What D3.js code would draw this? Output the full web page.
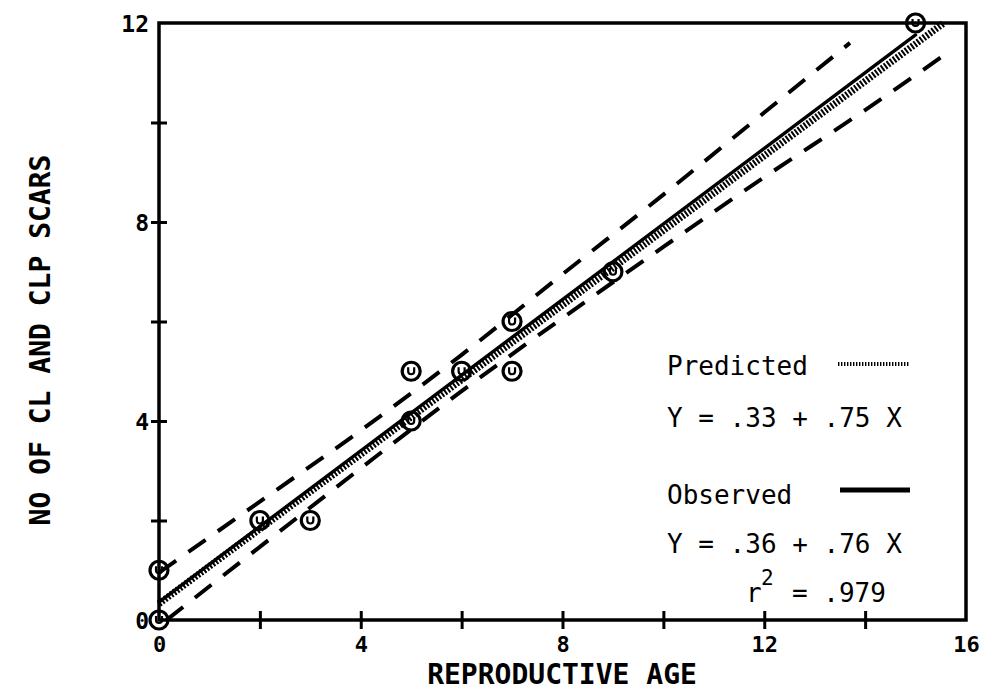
<!DOCTYPE html>
<html>
<head>
<meta charset="utf-8">
<script src="https://cdn.jsdelivr.net/npm/d3@7"></script>
<style>
  html, body { margin: 0; padding: 0; background: #fff; }
  svg { display: block; }
</style>
</head>
<body>
<svg id="chart" width="990" height="692"></svg>
<script>
// Observed animals: reproductive age vs number of CL and CLP scars
const ageValues   = [0, 0, 2, 3, 5, 5, 6, 7, 7, 9, 15];
const scarValues  = [0, 1, 2, 2, 5, 4, 5, 6, 5, 7, 12];

// Regression lines (intercept, slope)
const predictedFit = { a: 0.33, b: 0.75 };
const observedFit  = { a: 0.36, b: 0.76 };
const rSquared = ".979";

// Confidence band around the observed fit
const upperBandX = [0, 2, 4, 6, 8, 10, 12, 13.7];
const upperBandY = [0.95, 2.38, 3.81, 5.33, 6.95, 8.55, 10.2, 11.6];
const lowerBandX = [0.15, 2, 4, 6, 8, 10, 12, 14, 15.7];
const lowerBandY = [0, 1.47, 3.05, 4.6, 6.07, 7.5, 8.9, 10.25, 11.45];

// Axis ticks
const xTickValues = [0, 2, 4, 6, 8, 10, 12, 14, 16];
const xTickLabels = ["0", "", "4", "", "8", "", "12", "", "16"];
const yTickValues = [0, 2, 4, 6, 8, 10, 12];
const yTickLabels = ["0", "", "4", "", "8", "", "12"];

const svg = d3.select("#chart");
const plotLeft = 159, plotRight = 966, plotTop = 23, plotBottom = 620;

const x = d3.scaleLinear().domain([0, 16]).range([plotLeft, plotRight]);
const y = d3.scaleLinear().domain([0, 12]).range([plotBottom, plotTop]);

const ink = "#000";
const monoBold = "'DejaVu Sans Mono', 'Liberation Mono', monospace";

// Confidence band (dashed)
const bandLine = d3.line().x(d => x(d[0])).y(d => y(d[1])).curve(d3.curveMonotoneX);
[[upperBandX, upperBandY], [lowerBandX, lowerBandY]].forEach(([bx, by]) => {
  svg.append("path")
    .attr("d", bandLine(bx.map((v, i) => [v, by[i]])))
    .attr("fill", "none")
    .attr("stroke", ink)
    .attr("stroke-width", 4)
    .attr("stroke-dasharray", "21,15");
});

// Predicted line (hatched), ends where it reaches the top of the frame
const predEndX = (12 - predictedFit.a) / predictedFit.b;
svg.append("line")
  .attr("x1", x(0)).attr("y1", y(predictedFit.a))
  .attr("x2", x(predEndX)).attr("y2", y(predictedFit.a + predictedFit.b * predEndX))
  .attr("stroke", ink)
  .attr("stroke-width", 7)
  .attr("stroke-dasharray", "2,1.7");

// Observed line (solid)
const obsEndX = 15;
svg.append("line")
  .attr("x1", x(0)).attr("y1", y(observedFit.a))
  .attr("x2", x(obsEndX)).attr("y2", y(observedFit.a + observedFit.b * obsEndX))
  .attr("stroke", ink)
  .attr("stroke-width", 3.4)
  .attr("stroke-linecap", "round");

// Frame
svg.append("rect")
  .attr("x", plotLeft).attr("y", plotTop)
  .attr("width", plotRight - plotLeft).attr("height", plotBottom - plotTop)
  .attr("fill", "none")
  .attr("stroke", ink)
  .attr("stroke-width", 3.5);

// X axis: ticks crossing the bottom edge
const xAxis = d3.axisBottom(x)
  .tickValues(xTickValues)
  .tickFormat((d, i) => xTickLabels[i])
  .tickSizeInner(0).tickSizeOuter(0).tickPadding(0);
const gx = svg.append("g").attr("transform", `translate(0,${plotBottom})`).call(xAxis);
gx.select(".domain").remove();
gx.selectAll(".tick line")
  .attr("y1", -9).attr("y2", 9)
  .attr("stroke", ink).attr("stroke-width", 3);
gx.selectAll(".tick").filter(d => d === 0 || d === 16).select("line").remove();
gx.selectAll(".tick text")
  .attr("y", 32).attr("dy", null)
  .attr("fill", ink)
  .style("font-family", monoBold)
  .style("font-weight", "bold")
  .style("font-size", "22px");

// Y axis: ticks crossing the left edge
const yAxis = d3.axisLeft(y)
  .tickValues(yTickValues)
  .tickFormat((d, i) => yTickLabels[i])
  .tickSizeInner(0).tickSizeOuter(0).tickPadding(0);
const gy = svg.append("g").attr("transform", `translate(${plotLeft},0)`).call(yAxis);
gy.select(".domain").remove();
gy.selectAll(".tick line")
  .attr("x1", -8).attr("x2", 8)
  .attr("stroke", ink).attr("stroke-width", 3);
gy.selectAll(".tick").filter(d => d === 0 || d === 12).select("line").remove();
gy.selectAll(".tick text")
  .attr("x", -10).attr("dy", "0.36em")
  .attr("fill", ink)
  .style("font-family", monoBold)
  .style("font-weight", "bold")
  .style("font-size", "23px");

// Data points: circled markers
const pts = svg.append("g");
ageValues.forEach((a, i) => {
  const g = pts.append("g").attr("transform", `translate(${x(a)},${y(scarValues[i])})`);
  g.append("circle").attr("r", 9)
    .attr("fill", "none").attr("stroke", ink).attr("stroke-width", 3.2);
  g.append("path")
    .attr("d", "M-3,-4 V0 A3,3 0 0 0 3,0 V-4")
    .attr("fill", "none").attr("stroke", ink).attr("stroke-width", 2.2);
});

// Axis titles
svg.append("text")
  .attr("x", 562).attr("y", 684)
  .attr("text-anchor", "middle")
  .attr("fill", ink)
  .style("font-family", monoBold)
  .style("font-weight", "bold")
  .style("font-size", "28px")
  .text("REPRODUCTIVE AGE");

svg.append("text")
  .attr("transform", "translate(50,340) rotate(-90)")
  .attr("text-anchor", "middle")
  .attr("fill", ink)
  .style("font-family", monoBold)
  .style("font-weight", "bold")
  .style("font-size", "28px")
  .text("NO OF CL AND CLP SCARS");

// Legend
const mono = "'DejaVu Sans Mono', 'Liberation Mono', monospace";
const legend = svg.append("g")
  .attr("fill", ink)
  .style("font-family", mono)
  .style("font-size", "26px");
const lx = 667;
legend.append("text").attr("x", lx).attr("y", 375).text("Predicted");
legend.append("text").attr("x", lx).attr("y", 427)
  .text(`Y = ${String(predictedFit.a).slice(1)} + ${String(predictedFit.b).slice(1)} X`);
legend.append("text").attr("x", lx).attr("y", 504).text("Observed");
legend.append("text").attr("x", lx).attr("y", 553)
  .text(`Y = ${String(observedFit.a).slice(1)} + ${String(observedFit.b).slice(1)} X`);
legend.append("text").attr("x", 746).attr("y", 602).text("r");
legend.append("text").attr("x", 761).attr("y", 585).style("font-size", "21px").text("2");
legend.append("text").attr("x", 792).attr("y", 602).text(`= ${rSquared}`);

svg.append("line")
  .attr("x1", 838).attr("x2", 910).attr("y1", 364).attr("y2", 364)
  .attr("stroke", ink).attr("stroke-width", 4)
  .attr("stroke-dasharray", "1.4,1.6");
svg.append("line")
  .attr("x1", 840).attr("x2", 910).attr("y1", 490).attr("y2", 490)
  .attr("stroke", ink).attr("stroke-width", 5);
</script>
</body>
</html>
